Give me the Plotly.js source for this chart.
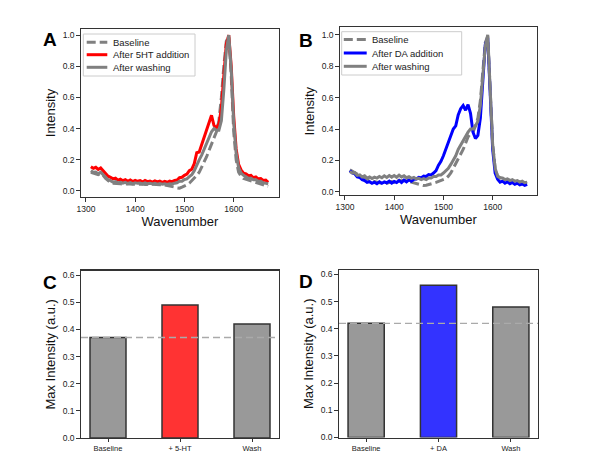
<!DOCTYPE html>
<html>
<head>
<meta charset="utf-8">
<script src="https://cdn.plot.ly/plotly-3.0.1.min.js"></script>
<style>
  html, body { margin: 0; padding: 0; background: #fff; }
  #chart { width: 602px; height: 453px; }
</style>
</head>
<body>
<div id="chart"></div>
<script>
// wavenumber grid shared by all spectra (cm-1)
var wavenumber = [];
for (var w = 1310; w <= 1670; w += 5) wavenumber.push(w);

// panel A : 5-HT
var a_baseline = [0.12,0.115,0.11,0.105,0.11,0.10,0.08,0.065,0.055,0.05,0.05,0.047,0.046,0.045,0.046,0.044,0.045,0.043,0.044,0.045,0.043,0.044,0.042,0.044,0.042,0.043,0.041,0.042,0.04,0.041,0.038,0.036,0.035,0.03,0.025,0.02,0.018,0.025,0.03,0.04,0.05,0.065,0.08,0.10,0.12,0.15,0.18,0.22,0.26,0.30,0.33,0.38,0.45,0.60,0.80,0.96,0.99,0.74,0.38,0.20,0.12,0.095,0.08,0.075,0.07,0.065,0.06,0.055,0.05,0.045,0.04,0.035,0.03];
var a_added = [0.155,0.145,0.152,0.138,0.148,0.132,0.115,0.095,0.088,0.078,0.082,0.07,0.076,0.066,0.072,0.062,0.07,0.06,0.068,0.062,0.066,0.058,0.067,0.06,0.064,0.057,0.065,0.058,0.063,0.055,0.062,0.056,0.063,0.06,0.068,0.07,0.085,0.088,0.10,0.108,0.13,0.14,0.175,0.245,0.25,0.30,0.335,0.39,0.445,0.485,0.42,0.405,0.43,0.53,0.74,0.94,1.0,0.80,0.48,0.27,0.17,0.135,0.115,0.11,0.098,0.1,0.085,0.09,0.078,0.08,0.068,0.07,0.055];
var a_washed = [0.13,0.12,0.122,0.11,0.12,0.105,0.09,0.072,0.066,0.056,0.06,0.052,0.056,0.05,0.055,0.048,0.054,0.047,0.052,0.049,0.051,0.046,0.052,0.046,0.05,0.045,0.049,0.044,0.047,0.043,0.046,0.042,0.046,0.045,0.05,0.053,0.062,0.063,0.074,0.078,0.092,0.105,0.13,0.17,0.20,0.23,0.27,0.31,0.35,0.38,0.40,0.39,0.39,0.45,0.65,0.90,1.0,0.78,0.44,0.24,0.15,0.115,0.10,0.092,0.082,0.082,0.072,0.072,0.062,0.062,0.052,0.05,0.045];

// panel B : DA
var b_baseline = [0.14,0.13,0.12,0.11,0.10,0.095,0.09,0.08,0.075,0.07,0.065,0.06,0.055,0.05,0.05,0.055,0.06,0.065,0.06,0.07,0.075,0.07,0.075,0.07,0.065,0.06,0.055,0.05,0.045,0.04,0.04,0.042,0.045,0.05,0.055,0.06,0.065,0.07,0.075,0.085,0.10,0.12,0.15,0.18,0.20,0.24,0.27,0.31,0.35,0.37,0.38,0.42,0.47,0.58,0.76,0.95,0.99,0.66,0.30,0.15,0.10,0.09,0.085,0.08,0.075,0.072,0.07,0.068,0.065,0.062,0.06,0.058,0.055];
var b_added = [0.135,0.12,0.115,0.095,0.092,0.078,0.072,0.06,0.065,0.055,0.062,0.052,0.064,0.055,0.063,0.058,0.068,0.055,0.066,0.06,0.072,0.06,0.074,0.064,0.076,0.068,0.08,0.082,0.092,0.09,0.10,0.098,0.11,0.108,0.12,0.135,0.17,0.195,0.23,0.275,0.32,0.365,0.40,0.42,0.49,0.53,0.55,0.52,0.555,0.50,0.38,0.34,0.36,0.47,0.70,0.94,0.98,0.62,0.27,0.12,0.08,0.062,0.068,0.055,0.064,0.052,0.06,0.048,0.056,0.045,0.05,0.042,0.048];
var b_washed = [0.13,0.12,0.122,0.105,0.108,0.095,0.102,0.088,0.095,0.085,0.094,0.088,0.098,0.09,0.102,0.092,0.104,0.094,0.104,0.093,0.106,0.095,0.102,0.09,0.096,0.086,0.092,0.082,0.086,0.078,0.084,0.078,0.088,0.088,0.098,0.098,0.108,0.108,0.12,0.135,0.15,0.175,0.20,0.23,0.27,0.30,0.33,0.36,0.38,0.40,0.40,0.42,0.45,0.55,0.72,0.93,1.0,0.64,0.30,0.15,0.10,0.09,0.088,0.078,0.082,0.072,0.078,0.068,0.072,0.062,0.068,0.058,0.062];

// panels C and D : max intensities
var c_labels = ['Baseline', '+ 5-HT', 'Wash'];
var c_values = [0.37, 0.49, 0.42];
var d_labels = ['Baseline', '+ DA', 'Wash'];
var d_values = [0.42, 0.56, 0.48];

var FONT = 'Liberation Sans, Arial, sans-serif';
var GREY = '#808080';
var DASH = '9px,4px';

function line(x, y, name, color, dash, xa, ya) {
  return {
    x: x, y: y, name: name, type: 'scatter', mode: 'lines', showlegend: false,
    line: {color: color, width: 3, dash: dash || 'solid'},
    xaxis: xa, yaxis: ya
  };
}

var data = [
  line(wavenumber, a_baseline, 'Baseline', GREY, DASH, 'x', 'y'),
  line(wavenumber, a_added, 'After 5HT addition', '#ff0000', null, 'x', 'y'),
  line(wavenumber, a_washed, 'After washing', GREY, null, 'x', 'y'),
  line(wavenumber, b_baseline, 'Baseline', GREY, DASH, 'x2', 'y2'),
  line(wavenumber, b_added, 'After DA addition', '#0000ff', null, 'x2', 'y2'),
  line(wavenumber, b_washed, 'After washing', GREY, null, 'x2', 'y2'),
  {
    x: c_labels, y: c_values, type: 'bar', width: 0.5, showlegend: false,
    marker: {color: ['#999999', '#ff3333', '#999999'], line: {color: '#333333', width: 1.5}},
    xaxis: 'x3', yaxis: 'y3'
  },
  {
    x: d_labels, y: d_values, type: 'bar', width: 0.5, showlegend: false,
    marker: {color: ['#999999', '#3333ff', '#999999'], line: {color: '#333333', width: 1.5}},
    xaxis: 'x4', yaxis: 'y4'
  }
];

function axis(extra) {
  var base = {
    showline: true, mirror: true, linecolor: '#333', linewidth: 1.3,
    ticks: 'outside', ticklen: 3.5, tickwidth: 1, tickcolor: '#333',
    showgrid: false, zeroline: false, automargin: false,
    tickfont: {family: FONT, size: 8.5, color: '#222'}
  };
  for (var k in extra) base[k] = extra[k];
  return base;
}

function px(x) { return x / 602; }
function py(y) { return 1 - y / 453; }

var titleFont = {family: FONT, size: 13, color: '#111'};
var shapes = [
  {type: 'line', xref: 'x3 domain', yref: 'y3', x0: 0, x1: 1, y0: c_values[0], y1: c_values[0],
    line: {color: '#aaaaaa', width: 1.3, dash: '7px,4px'}},
  {type: 'line', xref: 'x4 domain', yref: 'y4', x0: 0, x1: 1, y0: d_values[0], y1: d_values[0],
    line: {color: '#aaaaaa', width: 1.3, dash: '7px,4px'}}
];
var annotations = [
  ['A', 41, 27], ['B', 297, 28], ['C', 41, 270], ['D', 297, 269]
].map(function (p) {
  return {text: '<b>' + p[0] + '</b>', xref: 'paper', yref: 'paper', x: px(p[1]), y: py(p[2]),
    xanchor: 'left', yanchor: 'top', showarrow: false,
    font: {family: FONT, size: 19, color: '#000'}};
});

// matplotlib-style legend box drawn by hand (plotly rows are too tall here)
function legend(traces, box, rows, lx0, lx1, tx) {
  shapes.push({type: 'rect', xref: 'paper', yref: 'paper',
    x0: px(box[0]), x1: px(box[2]), y0: py(box[1]), y1: py(box[3]),
    fillcolor: 'rgba(255,255,255,0.85)', line: {color: '#cccccc', width: 1}, layer: 'above'});
  traces.forEach(function (t, i) {
    shapes.push({type: 'line', xref: 'paper', yref: 'paper',
      x0: px(lx0), x1: px(lx1), y0: py(rows[i]), y1: py(rows[i]),
      line: {color: t.line.color, width: 3, dash: t.line.dash}, layer: 'above'});
    annotations.push({text: t.name, xref: 'paper', yref: 'paper', x: px(tx), y: py(rows[i]),
      xanchor: 'left', yanchor: 'middle', showarrow: false,
      font: {family: FONT, size: 9.5, color: '#222'}});
  });
}
legend(data.slice(0, 3), [83.3, 34, 195, 76], [42.3, 54.7, 67.3], 86.7, 107.3, 110.5);
legend(data.slice(3, 6), [341.7, 31.7, 461.7, 75], [39.5, 53, 66.3], 343.8, 366.7, 370.5);

var layout = {
  width: 602, height: 453,
  margin: {l: 0, r: 0, t: 0, b: 0},
  paper_bgcolor: '#fff', plot_bgcolor: '#fff',
  font: {family: FONT},
  showlegend: false,
  xaxis: axis({domain: [px(81), px(279)], range: [1290, 1692], dtick: 100, anchor: 'y',
    title: {text: 'Wavenumber', font: titleFont, standoff: 3}}),
  yaxis: axis({domain: [py(197), py(29)], range: [-0.0385, 1.0385], dtick: 0.2, tickformat: '.1f', anchor: 'x',
    title: {text: 'Intensity', font: titleFont, standoff: 4}}),
  xaxis2: axis({domain: [px(340), px(537)], range: [1290, 1690], dtick: 100, anchor: 'y2',
    title: {text: 'Wavenumber', font: titleFont, standoff: 3}}),
  yaxis2: axis({domain: [py(195), py(27.3)], range: [-0.02, 1.048], dtick: 0.2, tickformat: '.1f', anchor: 'x2',
    title: {text: 'Intensity', font: titleFont, standoff: 4}}),
  xaxis3: axis({domain: [px(81), px(279)], range: [-0.375, 2.375], anchor: 'y3', ticklen: 3,
    tickfont: {family: FONT, size: 7.5, color: '#222'}}),
  yaxis3: axis({domain: [py(438), py(270.7)], range: [0, 0.616], dtick: 0.1, tickformat: '.1f', anchor: 'x3',
    title: {text: 'Max Intensity (a.u.)', font: titleFont, standoff: 4}}),
  xaxis4: axis({domain: [px(339), px(538)], range: [-0.375, 2.375], anchor: 'y4', ticklen: 3,
    tickfont: {family: FONT, size: 7.5, color: '#222'}}),
  yaxis4: axis({domain: [py(437.5), py(270)], range: [0, 0.616], dtick: 0.1, tickformat: '.1f', anchor: 'x4',
    title: {text: 'Max Intensity (a.u.)', font: titleFont, standoff: 4}}),
  shapes: shapes,
  annotations: annotations
};

Plotly.newPlot('chart', data, layout, {staticPlot: true, displayModeBar: false});
</script>
</body>
</html>
